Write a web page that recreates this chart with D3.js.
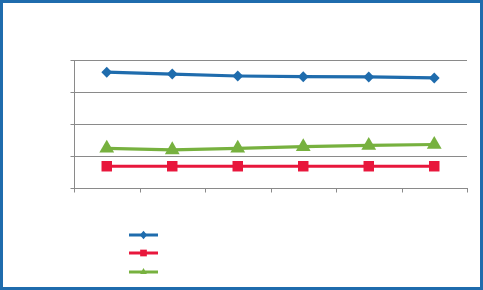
<!DOCTYPE html>
<html>
<head>
<meta charset="utf-8">
<script src="https://cdn.jsdelivr.net/npm/d3@7/dist/d3.min.js"></script>
<style>
  html, body { margin: 0; padding: 0; background: #fff; }
  svg { display: block; }
</style>
</head>
<body>
<svg id="chart" width="483" height="290"></svg>
<script>
const categories = ["1", "2", "3", "4", "5", "6"];
const seriesNames = ["A", "B", "C"];
const seriesA = [36.2, 35.6, 35.0, 34.8, 34.7, 34.4];
const seriesB = [6.8, 6.8, 6.8, 6.8, 6.8, 6.8];
const seriesC = [12.4, 11.9, 12.4, 12.9, 13.3, 13.6];
const yTicks = [0, 10, 20, 30, 40];

const colors = ["#1F6CAD", "#E8173C", "#77B13F"];
const shapes = [d3.symbolDiamond, d3.symbolSquare, d3.symbolTriangle];

const svg = d3.select("#chart");
const W = 483, H = 290;

// frame
svg.append("rect").attr("x", 1.5).attr("y", 1.5).attr("width", W - 3).attr("height", H - 3)
  .attr("fill", "#fff").attr("stroke", "#1F6CAD").attr("stroke-width", 3);

const pL = 74, pR = 467, pT = 60, pB = 188;
const x = d3.scaleBand().domain(categories).range([pL, pR]);
const y = d3.scaleLinear().domain([0, 40]).range([pB, pT]);

// gridlines
svg.append("g").selectAll("line").data(yTicks.filter(d => d > 0)).join("line")
  .attr("x1", pL).attr("x2", pR)
  .attr("y1", d => Math.round(y(d)) + 0.5).attr("y2", d => Math.round(y(d)) + 0.5)
  .attr("stroke", "#8a8a8a").attr("stroke-width", 1);

// y axis
const yAxis = d3.axisLeft(y).tickValues(yTicks).tickSize(4).tickFormat("");
const gy = svg.append("g").attr("transform", `translate(${pL + 0.5},0.5)`).call(yAxis);
gy.select(".domain").attr("stroke", "#8a8a8a").attr("d", `M0,${pT}V${pB}`);
gy.selectAll(".tick line").attr("stroke", "#8a8a8a");
gy.selectAll(".tick").attr("transform", d => `translate(0,${Math.round(y(d))})`);

// x axis with boundary ticks
const xAxisG = svg.append("g").attr("transform", `translate(0,${pB + 0.5})`);
xAxisG.append("line").attr("x1", pL).attr("x2", pR + 1).attr("y1", 0).attr("y2", 0)
  .attr("stroke", "#8a8a8a");
const boundaries = categories.map(c => x(c)).concat([pR]);
xAxisG.selectAll("line.t").data(boundaries).join("line").attr("class", "t")
  .attr("x1", d => Math.round(d) + 0.5).attr("x2", d => Math.round(d) + 0.5)
  .attr("y1", 0).attr("y2", 4).attr("stroke", "#8a8a8a");

const all = [seriesA, seriesB, seriesC];
const cx = i => x(categories[i]) + x.bandwidth() / 2;
const line = d3.line().x((d, i) => cx(i)).y(d => y(d));

all.forEach((s, k) => {
  svg.append("path").datum(s).attr("d", line).attr("fill", "none")
    .attr("stroke", colors[k]).attr("stroke-width", 3.2).attr("stroke-linejoin", "round");
});

const sizes = [35, 110, 95];
all.forEach((s, k) => {
  svg.append("g").selectAll("path").data(s).join("path")
    .attr("transform", (d, i) => `translate(${cx(i)},${y(d)})` + (k === 0 ? " scale(1.7,1)" : ""))
    .attr("d", d3.symbol().type(shapes[k]).size(sizes[k]))
    .attr("fill", colors[k]);
});

// legend
const legY = [235, 253, 272];
seriesNames.forEach((n, k) => {
  const g = svg.append("g").attr("transform", `translate(129,${legY[k]})`);
  g.append("line").attr("x1", 0).attr("x2", 29).attr("y1", 0).attr("y2", 0)
    .attr("stroke", colors[k]).attr("stroke-width", 3);
  g.append("path").attr("transform", "translate(14.5,0)" + (k === 0 ? " scale(1.5,1)" : ""))
    .attr("d", d3.symbol().type(shapes[k]).size(k === 1 ? 45 : 20)).attr("fill", colors[k]);
});
</script>
</body>
</html>
